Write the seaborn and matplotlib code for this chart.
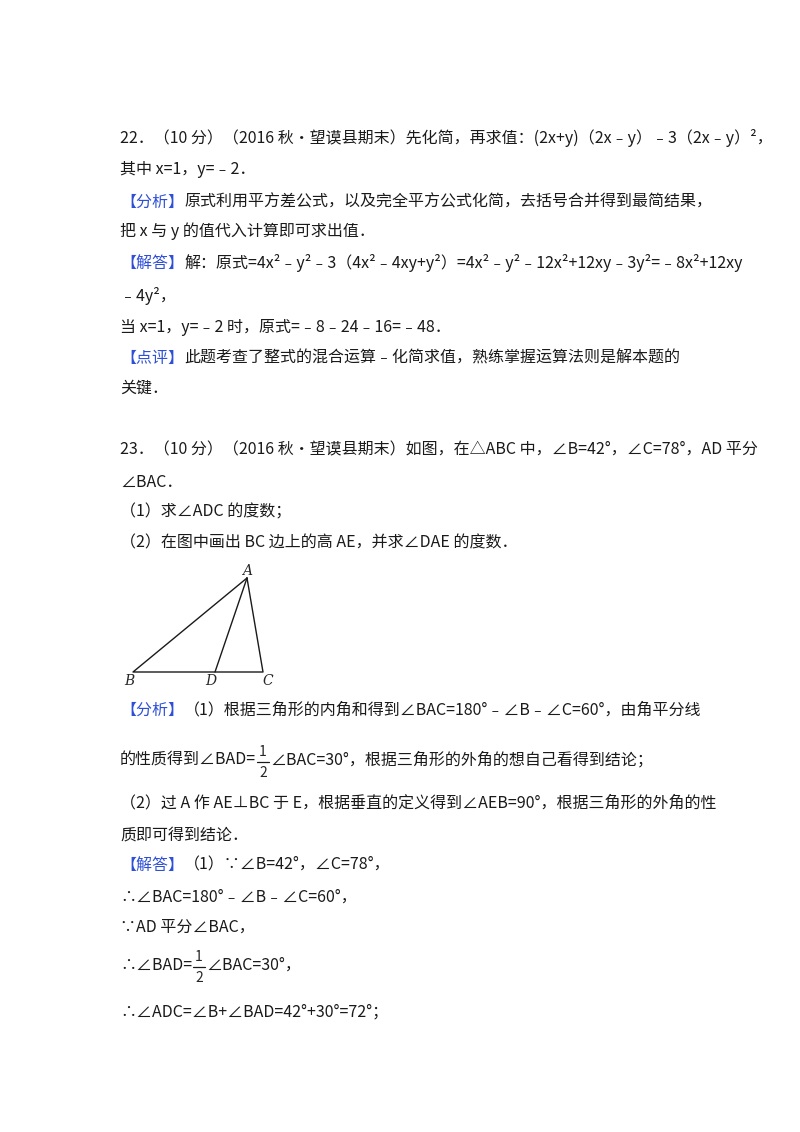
import matplotlib
matplotlib.use("Agg")
import matplotlib.pyplot as plt
import seaborn as sns

sns.set_theme(style="white")
plt.rcParams['font.family'] = ['Noto Sans CJK SC', 'DejaVu Sans']

BLUE = "#2e4fd6"
lines = [
    (138, [("22．（10 分）（2016 秋•望谟县期末）先化简，再求值：(2x+y)（2x﹣y）﹣3（2x﹣y）²，", "k")]),
    (170, [("其中 x=1，y=﹣2．", "k")]),
    (202, [("【分析】", BLUE), ("原式利用平方差公式，以及完全平方公式化简，去括号合并得到最简结果，", "k")]),
    (231, [("把 x 与 y 的值代入计算即可求出值．", "k")]),
    (263, [("【解答】", BLUE), ("解：原式=4x²﹣y²﹣3（4x²﹣4xy+y²）=4x²﹣y²﹣12x²+12xy﹣3y²=﹣8x²+12xy", "k")]),
    (296, [("﹣4y²，", "k")]),
    (327, [("当 x=1，y=﹣2 时，原式=﹣8﹣24﹣16=﹣48．", "k")]),
    (358, [("【点评】", BLUE), ("此题考查了整式的混合运算﹣化简求值，熟练掌握运算法则是解本题的", "k")]),
    (388, [("关键．", "k")]),
    (450, [("23．（10 分）（2016 秋•望谟县期末）如图，在△ABC 中，∠B=42°，∠C=78°，AD 平分", "k")]),
    (482, [("∠BAC．", "k")]),
    (512, [("（1）求∠ADC 的度数；", "k")]),
    (543, [("（2）在图中画出 BC 边上的高 AE，并求∠DAE 的度数．", "k")]),
    (710, [("【分析】", BLUE), ("（1）根据三角形的内角和得到∠BAC=180°﹣∠B﹣∠C=60°，由角平分线", "k")]),
    (760, [("的性质得到∠BAD=", "k")]),
    (803, [("（2）过 A 作 AE⊥BC 于 E，根据垂直的定义得到∠AEB=90°，根据三角形的外角的性", "k")]),
    (835, [("质即可得到结论．", "k")]),
    (865, [("【解答】", BLUE), ("（1）∵∠B=42°，∠C=78°，", "k")]),
    (897, [("∴∠BAC=180°﹣∠B﹣∠C=60°，", "k")]),
    (927, [("∵AD 平分∠BAC，", "k")]),
    (965, [("∴∠BAD=", "k")]),
    (1012, [("∴∠ADC=∠B+∠BAD=42°+30°=72°；", "k")]),
]

tri_x = [247, 133, 263, 247]
tri_y = [578, 672, 672, 578]
ad_x = [247, 215]
ad_y = [578, 672]

fig = plt.figure(figsize=(8, 11.32), dpi=100)
ax = fig.add_axes([0, 0, 1, 1])
ax.set_xlim(0, 800); ax.set_ylim(1132, 0); ax.axis("off")
fig.canvas.draw()
r = fig.canvas.get_renderer()

def draw(y, segs, x=120):
    for t, c in segs:
        tx = ax.text(x, y, t, color=c, fontsize=11.5, va="center", ha="left")
        x += tx.get_window_extent(renderer=r).width
    return x

for y, s in lines:
    xe = draw(y, s)
    if y in (760, 965):
        ax.text(xe + 7, y - 8, "1", fontsize=10, ha="center", va="center")
        ax.plot([xe + 1, xe + 13], [y + 2, y + 2], color="k", lw=0.9)
        ax.text(xe + 7, y + 13, "2", fontsize=10, ha="center", va="center")
        rest = "∠BAC=30°，根据三角形的外角的想自己看得到结论；" if y == 760 else "∠BAC=30°，"
        draw(y, [(rest, "k")], xe + 14)

ax.plot(tri_x, tri_y, color="k", lw=1)
ax.plot(ad_x, ad_y, color="k", lw=1)
for t, px, py in [("A", 247, 571), ("B", 129, 681), ("D", 211, 681), ("C", 268, 681)]:
    ax.text(px, py, t, fontsize=10, family="DejaVu Serif", style="italic", ha="center", va="center")

fig.savefig("out.png", dpi=100)
